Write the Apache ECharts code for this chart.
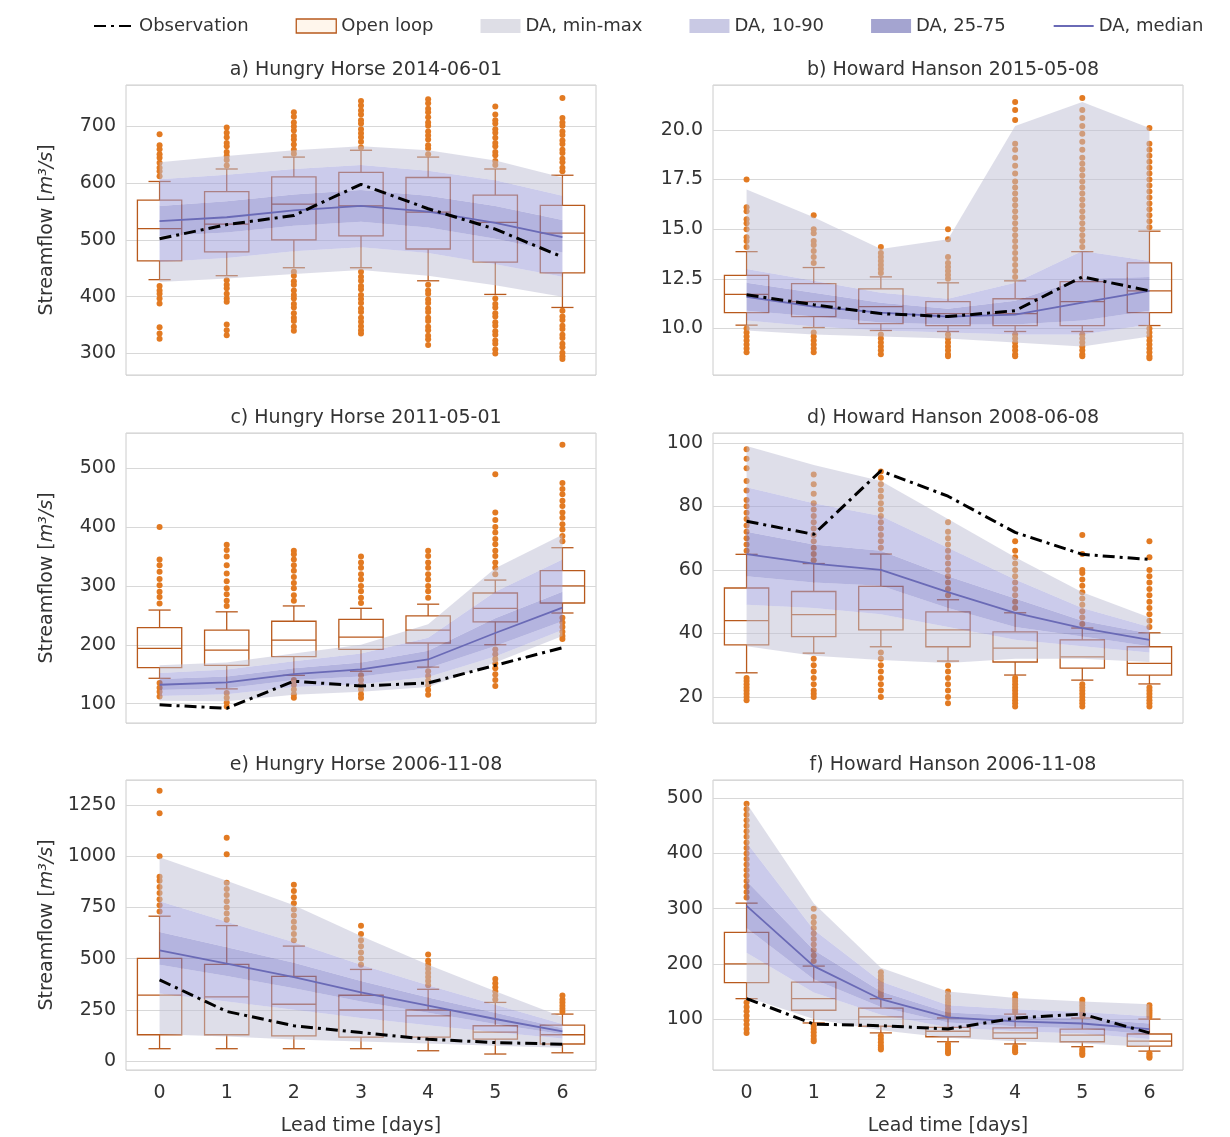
<!DOCTYPE html>
<html><head><meta charset="utf-8">
<script src="https://cdn.jsdelivr.net/npm/echarts@6/dist/echarts.min.js"></script>
<style>html,body{margin:0;padding:0;background:#fff}#c{width:1230px;height:1137px}</style>
</head><body><div id="c"></div>
<script>
const leads = ['0','1','2','3','4','5','6'];
const panelTitles = ['a) Hungry Horse 2014-06-01','b) Howard Hanson 2015-05-08','c) Hungry Horse 2011-05-01','d) Howard Hanson 2008-06-08','e) Hungry Horse 2006-11-08','f) Howard Hanson 2006-11-08'];
const yMin = [262, 7.66, 67, 11.8, -44, 7.8];
const yMax = [773, 22.26, 560, 103.1, 1372, 533];
const yStep = [100, 2.5, 100, 20, 250, 100];

// ---- a) Hungry Horse 2014-06-01
const obsA = [502, 527, 543, 598, 555, 519, 470];
const daMinA = [426, 432, 440, 447, 437, 420, 400];
const daP10A = [461, 468, 480, 487, 477, 457, 435];
const daP25A = [507, 513, 525, 532, 522, 502, 478];
const daMedA = [533, 540, 552, 560, 550, 530, 505];
const daP75A = [560, 568, 580, 588, 578, 560, 535];
const daP90A = [607, 615, 625, 632, 622, 605, 578];
const daMaxA = [637, 648, 658, 665, 658, 640, 610];
const olBoxA = [[430,463,520,570,603],[437,479,528,585,625],[451,500,563,611,646],[451,507,560,619,658],[428,484,549,610,646],[404,461,531,579,625],[381,442,512,561,614]];
const olOutA = [
 [612,621,627,636,645,651,660,667,686,419,411,405,397,388,346,335,326],
 [631,641,648,655,665,671,681,689,698,429,421,415,405,397,391,351,341,332],
 [652,659,668,677,683,693,700,707,717,725,444,437,427,421,411,403,397,387,381,371,363,357,347,340],
 [663,673,681,688,695,705,711,721,728,737,745,444,435,428,419,413,403,396,389,379,373,363,356,348,341,335],
 [651,661,667,677,684,691,701,707,716,725,731,741,748,421,411,405,395,389,379,373,363,357,347,341,331,325,315],
 [632,639,649,655,665,671,680,689,695,705,711,721,735,397,387,381,371,365,355,349,339,333,323,317,307,300],
 [621,627,637,643,653,659,669,675,685,691,701,707,715,750,375,365,359,349,343,333,327,317,311,301,295,290]
];

// ---- b) Howard Hanson 2015-05-08
const obsB = [11.7, 11.2, 10.75, 10.6, 10.9, 12.6, 11.9];
const daMinB = [9.9, 9.7, 9.6, 9.5, 9.3, 9.1, 9.6];
const daP10B = [10.4, 10.1, 9.9, 9.8, 9.7, 9.7, 10.2];
const daP25B = [10.9, 10.6, 10.3, 10.2, 10.2, 10.4, 10.9];
const daMedB = [11.6, 11.1, 10.8, 10.6, 10.7, 11.3, 11.9];
const daP75B = [12.3, 11.8, 11.3, 11.0, 11.4, 12.5, 12.6];
const daP90B = [13.0, 12.4, 11.8, 11.5, 12.3, 13.9, 13.4];
const daMaxB = [17.0, 15.6, 14.0, 14.5, 20.2, 21.4, 20.1];
const olBoxB = [[10.17,10.8,11.72,12.68,13.87],[10.05,10.6,11.35,12.26,13.07],[9.9,10.25,11.1,12.0,12.6],[9.85,10.15,10.75,11.35,12.3],[9.85,10.15,10.75,11.5,12.4],[9.85,10.15,11.35,12.36,13.87],[10.15,10.8,11.9,13.3,14.9]];
const olOutB = [
 [14.1,14.4,14.6,15.0,15.3,15.5,15.9,16.1,17.5,10.0,9.8,9.6,9.4,9.2,9.0,8.8],
 [13.3,13.6,13.9,14.2,14.4,14.8,15.0,15.7,9.8,9.6,9.4,9.2,9.0,8.8],
 [12.8,13.0,13.2,13.4,13.6,13.8,14.1,9.7,9.5,9.3,9.1,8.9,8.7],
 [12.5,12.7,12.9,13.1,13.3,13.6,14.5,15.0,9.7,9.5,9.3,9.1,8.9,8.7,8.6],
 [12.6,12.9,13.2,13.5,13.8,14.1,14.4,14.7,15.0,15.3,15.6,15.9,16.2,16.5,16.8,17.1,17.4,17.8,18.2,18.6,19.0,19.3,20.5,21.0,21.4,9.7,9.5,9.3,9.1,8.9,8.7,8.6],
 [14.1,14.4,14.7,15.0,15.3,15.6,15.9,16.2,16.5,16.8,17.1,17.4,17.7,18.0,18.3,18.6,19.0,19.4,19.8,20.2,20.6,21.0,21.6,9.7,9.5,9.3,9.1,8.9,8.7,8.6],
 [15.1,15.4,15.7,16.0,16.3,16.6,16.9,17.2,17.5,17.8,18.1,18.4,18.7,19.0,19.3,20.1,10.0,9.8,9.6,9.4,9.2,9.0,8.8,8.6,8.5]
];

// ---- c) Hungry Horse 2011-05-01
const obsC = [98, 92, 138, 130, 135, 165, 195];
const daMinC = [105, 104, 115, 120, 128, 170, 215];
const daP10C = [113, 116, 128, 133, 145, 180, 225];
const daP25C = [123, 126, 140, 146, 160, 198, 240];
const daMedC = [132, 136, 150, 158, 175, 220, 263];
const daP75C = [142, 146, 160, 170, 190, 245, 290];
const daP90C = [152, 158, 172, 185, 212, 290, 345];
const daMaxC = [165, 170, 185, 200, 235, 330, 387];
const olBoxC = [[143,161,194,229,259],[125,165,191,225,256],[148,180,208,240,266],[155,192,213,243,262],[162,203,225,249,269],[200,239,262,288,310],[254,271,300,326,365]];
const olOutC = [
 [270,281,290,301,312,324,335,345,400,135,127,120,112],
 [266,275,286,296,308,321,335,350,361,370,118,110,102,95],
 [275,284,296,305,315,326,335,345,354,360,140,132,124,116,110],
 [271,280,291,300,311,320,331,340,350,148,140,132,124,116,110],
 [280,291,300,311,320,331,340,351,360,155,147,139,131,123,115],
 [320,331,340,351,360,371,380,391,400,412,425,490,192,184,176,168,160,150,140,130],
 [376,385,396,405,416,425,436,445,456,465,475,540,246,238,230,222,215,210]
];

// ---- d) Howard Hanson 2008-06-08
const obsD = [75.3, 71.2, 91.2, 83.2, 71.8, 64.9, 63.3];
const daMinD = [36, 33, 31.6, 30.7, 32, 32, 31];
const daP10D = [49, 48, 46, 42, 38, 36, 34];
const daP25D = [58, 56, 55, 48, 42, 39, 36];
const daMedD = [65, 62, 60, 53, 46.5, 41.7, 38];
const daP75D = [72, 68, 66, 58, 51, 44, 40];
const daP90D = [86, 81, 77, 67, 57, 48, 42];
const daMaxD = [99, 93, 88, 76, 64, 53, 45];
const olBoxD = [[27.6,36.4,44.0,54.3,64.9],[33.8,39.0,45.9,53.2,62.0],[35.8,41.1,47.5,54.8,65.0],[31.3,35.8,41.1,46.8,50.6],[26.9,31.0,35.4,40.5,46.5],[25.3,29.1,32.6,38.0,41.7],[24.1,26.9,30.6,35.8,40.2]];
const olOutD = [
 [66,68,70,72,74,76,78,80,82,85,88,92,95,98,26,25,24,23,22,21,20,19],
 [63,65,67,69,71,73,75,77,79,81,84,87,90,32,30,28,26,24,22,21,20],
 [67,69,71,73,75,77,79,81,83,85,87,89,91,34,32,30,28,26,24,22,20],
 [52,54,56,58,60,62,64,66,68,70,72,75,30,28,26,24,22,20,18],
 [48,50,52,54,56,58,60,62,64,66,69,26,25,24,23,22,21,20,19,18,17],
 [43,45,47,49,51,53,55,57,59,60,65,71,24,23,22,21,20,19,18,17],
 [42,44,46,48,50,52,54,56,58,60,64,69,23,22,21,20,19,18,17]
];

// ---- e) Hungry Horse 2006-11-08
const obsE = [396, 242, 172, 139, 106, 90, 82];
const daMinE = [130, 120, 105, 95, 85, 75, 65];
const daP10E = [330, 290, 250, 210, 175, 140, 110];
const daP25E = [470, 415, 355, 290, 235, 180, 130];
const daMedE = [540, 475, 410, 335, 270, 205, 145];
const daP75E = [630, 555, 480, 390, 310, 235, 160];
const daP90E = [780, 680, 580, 470, 370, 275, 180];
const daMaxE = [995, 880, 760, 610, 470, 340, 215];
const olBoxE = [[60,128,322,501,707],[60,128,313,472,661],[60,123,277,413,561],[60,117,249,321,447],[50,117,220,249,350],[34,107,141,172,286],[40,83,128,175,229]];
const olOutE = [
 [730,760,790,820,850,880,900,1000,1210,1320],
 [690,720,750,780,810,840,870,1010,1090],
 [590,620,650,680,710,740,770,800,830,860],
 [470,500,530,560,590,620,660],
 [370,390,410,430,450,470,490,520],
 [300,320,340,360,380,400],
 [240,255,270,285,300,320]
];

// ---- f) Howard Hanson 2006-11-08
const obsF = [137, 91, 88, 82, 102, 109, 75];
const daMinF = [140, 100, 80, 66, 60, 56, 50];
const daP10F = [220, 148, 108, 85, 78, 74, 64];
const daP25F = [265, 172, 122, 94, 87, 83, 72];
const daMedF = [305, 196, 136, 103, 96, 92, 82];
const daP75F = [350, 225, 150, 112, 106, 101, 92];
const daP90F = [420, 262, 168, 125, 118, 113, 105];
const daMaxF = [491, 310, 193, 150, 138, 132, 127];
const olBoxF = [[137,166,200,257,310],[93,116,137,167,196],[75,87,104,120,137],[59,68,78,85,102],[55,65,75,84,109],[50,59,71,82,102],[42,51,60,73,100]];
const olOutF = [
 [320,330,340,350,360,370,380,390,400,410,420,430,440,450,460,470,480,490,130,122,114,106,98,90,82,75],
 [205,215,225,235,245,255,265,275,285,300,88,82,76,70,64,60],
 [142,148,154,160,166,172,178,185,70,64,58,52,48,45],
 [106,112,118,124,130,136,142,150,55,50,45,41,38],
 [113,118,123,128,133,138,145,50,46,43,40],
 [106,110,115,120,125,130,135,46,42,38,35],
 [104,108,112,116,120,125,38,35,32,30]
];

const panels = [
 {obs:obsA,mn:daMinA,p10:daP10A,p25:daP25A,med:daMedA,p75:daP75A,p90:daP90A,mx:daMaxA,box:olBoxA,out:olOutA},
 {obs:obsB,mn:daMinB,p10:daP10B,p25:daP25B,med:daMedB,p75:daP75B,p90:daP90B,mx:daMaxB,box:olBoxB,out:olOutB},
 {obs:obsC,mn:daMinC,p10:daP10C,p25:daP25C,med:daMedC,p75:daP75C,p90:daP90C,mx:daMaxC,box:olBoxC,out:olOutC},
 {obs:obsD,mn:daMinD,p10:daP10D,p25:daP25D,med:daMedD,p75:daP75D,p90:daP90D,mx:daMaxD,box:olBoxD,out:olOutD},
 {obs:obsE,mn:daMinE,p10:daP10E,p25:daP25E,med:daMedE,p75:daP75E,p90:daP90E,mx:daMaxE,box:olBoxE,out:olOutE},
 {obs:obsF,mn:daMinF,p10:daP10F,p25:daP25F,med:daMedF,p75:daP75F,p90:daP90F,mx:daMaxF,box:olBoxF,out:olOutF}
];

const FONT = 'DejaVu Sans';
const TXT = '#333333';
const BOX_C = '#b8591c';
const DOT_C = '#e27a22';
const C_OUT = 'rgba(190,190,212,0.5)';
const C_MID = 'rgba(160,160,218,0.55)';
const C_IN = 'rgba(118,118,196,0.55)';
const colLeft = [126, 713], colW = 470, rowTop = [85, 433, 780], rowH = 290;

function diff(a, b) { return a.map((v, k) => +(v - b[k]).toFixed(4)); }

function renderBox(params, api) {
  const x = api.value(0);
  const lo = api.coord([x, api.value(1)]);
  const q1 = api.coord([x, api.value(2)]);
  const md = api.coord([x, api.value(3)]);
  const q3 = api.coord([x, api.value(4)]);
  const hi = api.coord([x, api.value(5)]);
  const bw = api.size([1, 0])[0] * 0.66;
  const cw = bw * 0.5;
  const cx = md[0];
  const st = {stroke: BOX_C, lineWidth: 1.3, fill: null};
  const ln = (x1, y1, x2, y2) => ({type: 'line', shape: {x1, y1, x2, y2}, style: st});
  return {type: 'group', children: [
    {type: 'rect', shape: {x: cx - bw / 2, y: q3[1], width: bw, height: q1[1] - q3[1]}, style: {stroke: BOX_C, lineWidth: 1.3, fill: 'rgba(0,0,0,0)'}},
    ln(cx - bw / 2, md[1], cx + bw / 2, md[1]),
    ln(cx, q3[1], cx, hi[1]),
    ln(cx, q1[1], cx, lo[1]),
    ln(cx - cw / 2, hi[1], cx + cw / 2, hi[1]),
    ln(cx - cw / 2, lo[1], cx + cw / 2, lo[1])
  ]};
}

const grids = [], xAxes = [], yAxes = [], series = [], titles = [];
panels.forEach((p, i) => {
  const col = i % 2, row = Math.floor(i / 2);
  grids.push({left: colLeft[col], top: rowTop[row], width: colW, height: rowH, show: true, borderColor: '#cccccc', borderWidth: 1, backgroundColor: '#ffffff'});
  titles.push({text: panelTitles[i], left: colLeft[col] + colW / 2, top: rowTop[row] - 29, textAlign: 'center',
    textStyle: {fontSize: 19, fontWeight: 'normal', color: TXT, fontFamily: FONT}});
  xAxes.push({gridIndex: i, type: 'category', data: leads, boundaryGap: true,
    axisLine: {show: false}, axisTick: {show: false}, splitLine: {show: false},
    axisLabel: {show: row === 2, fontSize: 19, color: TXT, fontFamily: FONT, margin: 14},
    name: row === 2 ? 'Lead time [days]' : '', nameLocation: 'middle', nameGap: 47,
    nameTextStyle: {fontSize: 19, color: TXT, fontFamily: FONT}});
  yAxes.push({gridIndex: i, type: 'value', min: yMin[i], max: yMax[i], minInterval: yStep[i], maxInterval: yStep[i], splitNumber: 5,
    axisLine: {show: false}, axisTick: {show: false},
    splitLine: {show: true, lineStyle: {color: '#d8d8d8', width: 1}},
    axisLabel: {showMinLabel: false, showMaxLabel: false, fontSize: 19, color: TXT, fontFamily: FONT, margin: 10,
      formatter: v => yStep[i] < 5 ? v.toFixed(1) : String(Math.round(v))},
    name: col === 0 ? '{a|Streamflow [}{i|m³/s}{a|]}' : '', nameLocation: 'middle', nameGap: 69,
    nameTextStyle: {fontSize: 19, color: TXT, fontFamily: FONT,
      rich: {a: {fontSize: 19, color: TXT, fontFamily: FONT}, i: {fontSize: 19, color: TXT, fontFamily: FONT, fontStyle: 'italic'}}}});

  const stack = 'band' + i;
  const band = (name, data, color) => {
    const s = {name, type: 'line', xAxisIndex: i, yAxisIndex: i, stack, stackStrategy: 'all', data, symbol: 'none', silent: true,
      lineStyle: {width: 0, opacity: 0}, z: 3, animation: false};
    if (color) s.areaStyle = {color, opacity: 1};
    return s;
  };
  series.push({name: 'Open loop', type: 'custom', xAxisIndex: i, yAxisIndex: i, renderItem: renderBox,
    data: p.box.map((b, k) => [k, ...b]), encode: {x: 0, y: [1, 2, 3, 4, 5]}, z: 2, silent: true, itemStyle: {color: BOX_C}});
  series.push({name: 'Open loop outliers', type: 'scatter', xAxisIndex: i, yAxisIndex: i,
    data: p.out.flatMap((arr, k) => arr.map(v => [k, v])), symbolSize: 6, itemStyle: {color: DOT_C, opacity: 1}, z: 2, silent: true});
  series.push(band('base', p.mn, null));
  series.push(band('DA, min-max', diff(p.p10, p.mn), C_OUT));
  series.push(band('DA, 10-90', diff(p.p25, p.p10), C_MID));
  series.push(band('DA, 25-75', diff(p.p75, p.p25), C_IN));
  series.push(band('DA, 10-90', diff(p.p90, p.p75), C_MID));
  series.push(band('DA, min-max', diff(p.mx, p.p90), C_OUT));
  series.push({name: 'DA, median', type: 'line', xAxisIndex: i, yAxisIndex: i, data: p.med, symbol: 'none', silent: true,
    lineStyle: {color: '#6a6ab6', width: 1.8}, itemStyle: {color: '#6a6ab6'}, z: 4});
  series.push({name: 'Observation', type: 'line', xAxisIndex: i, yAxisIndex: i, data: p.obs, symbol: 'none', silent: true,
    lineStyle: {color: '#000000', width: 3, type: [12, 5, 3, 5]}, itemStyle: {color: '#000000'}, z: 5});
});

const chart = echarts.init(document.getElementById('c'), null, {renderer: 'canvas'});
chart.setOption({
  backgroundColor: '#ffffff',
  animation: false,
  title: titles,
  legend: {top: 12, left: 88, itemWidth: 40, itemHeight: 14, itemGap: 47, selectedMode: false,
    textStyle: {fontSize: 18, color: TXT, fontFamily: FONT},
    data: [
      {name: 'Observation', itemStyle: {opacity: 0}},
      {name: 'Open loop', icon: 'rect', itemStyle: {color: '#fff6ec', borderColor: BOX_C, borderWidth: 1.3}},
      {name: 'DA, min-max', icon: 'rect', itemStyle: {color: '#dedee6', borderWidth: 0}},
      {name: 'DA, 10-90', icon: 'rect', itemStyle: {color: '#c9c9e4', borderWidth: 0}},
      {name: 'DA, 25-75', icon: 'rect', itemStyle: {color: '#a4a4d0', borderWidth: 0}},
      {name: 'DA, median', itemStyle: {opacity: 0}}
    ]},
  grid: grids,
  xAxis: xAxes,
  yAxis: yAxes,
  series: series
});
</script></body></html>
